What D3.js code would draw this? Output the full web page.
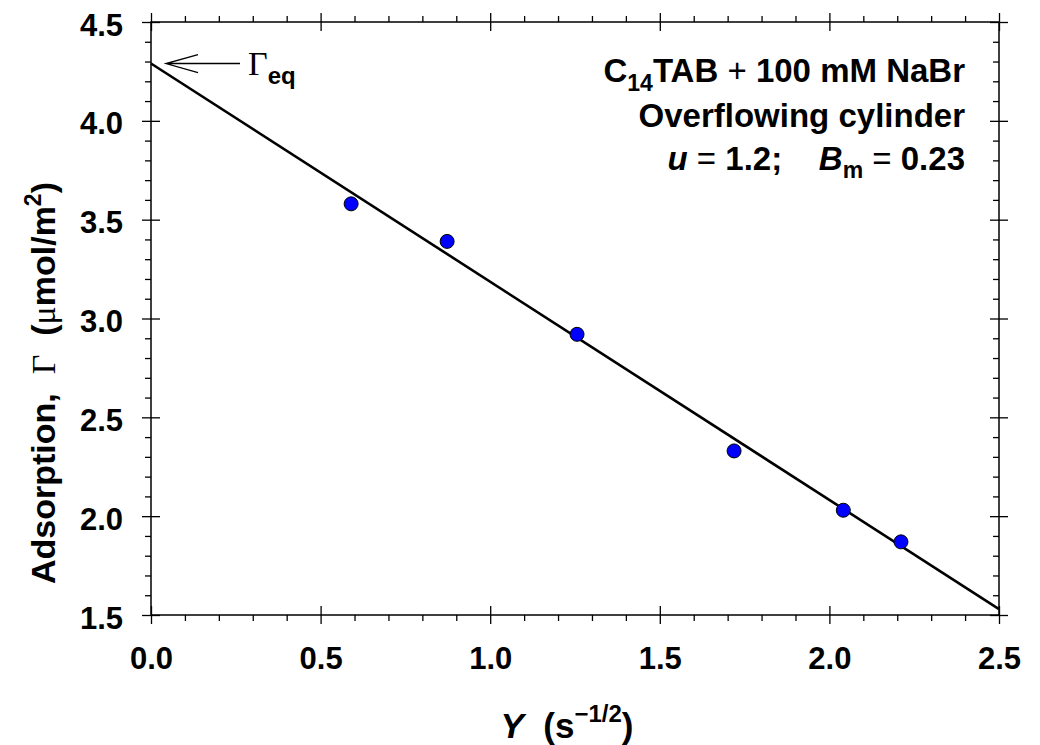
<!DOCTYPE html>
<html><head><meta charset="utf-8">
<script src="https://cdn.jsdelivr.net/npm/d3@7"></script>
<style>
  body { margin: 0; background: #fff; }
  svg { display: block; }
  .tick text { font-family: "Liberation Sans", Arial, sans-serif; font-weight: bold; }
</style>
</head><body>
<svg id="chart" width="1040" height="745"></svg>
<script>
// Axis ticks
const xMajor = [0, 0.5, 1.0, 1.5, 2.0, 2.5];
const yMajor = [1.5, 2.0, 2.5, 3.0, 3.5, 4.0, 4.5];
const xMinor = [0.1, 0.2, 0.3, 0.4, 0.6, 0.7, 0.8, 0.9, 1.1, 1.2, 1.3, 1.4, 1.6, 1.7, 1.8, 1.9, 2.1, 2.2, 2.3, 2.4];
const yMinor = [1.6, 1.7, 1.8, 1.9, 2.1, 2.2, 2.3, 2.4, 2.6, 2.7, 2.8, 2.9, 3.1, 3.2, 3.3, 3.4, 3.6, 3.7, 3.8, 3.9, 4.1, 4.2, 4.3, 4.4];

// Measured adsorption vs. Y
const pointY = [0.59, 0.873, 1.256, 1.719, 2.041, 2.211];
const pointGamma = [3.58, 3.39, 2.92, 2.33, 2.03, 1.87];

// Linear fit, extrapolated to Y = 0 (equilibrium adsorption)
const fitY = [0, 2.5];
const fitGamma = [4.29, 1.53];
const gammaEq = 4.29;

const svg = d3.select("#chart");
const L = 151, R = 999, T = 22, B = 615;
const x = d3.scaleLinear().domain([0, 2.5]).range([L, R]);
const y = d3.scaleLinear().domain([1.5, 4.5]).range([B, T]);
const fmt = d3.format(".1f");
const SANS = '"Liberation Sans", Arial, sans-serif';
const SERIF = '"Liberation Serif", "Times New Roman", serif';
const tickFont = 31;

function styleAxis(g, showLabels) {
  g.select(".domain").remove();
  g.selectAll(".tick line").attr("stroke", "#000").attr("stroke-width", 1.3);
  if (!showLabels) g.selectAll(".tick text").remove();
}

// Bottom axis: labelled majors crossing the frame, minors outward
svg.append("g").attr("transform", `translate(0,${B})`)
  .call(d3.axisBottom(x).tickValues(xMajor).tickFormat(fmt).tickSize(9).tickPadding(23))
  .call(g => styleAxis(g, true))
  .call(g => g.selectAll(".tick text").attr("font-size", tickFont).attr("fill", "#000"));
svg.append("g").attr("transform", `translate(0,${B})`)
  .call(d3.axisBottom(x).tickValues(xMajor).tickSize(-9)).call(g => styleAxis(g, false));
svg.append("g").attr("transform", `translate(0,${B})`)
  .call(d3.axisBottom(x).tickValues(xMinor).tickSize(6)).call(g => styleAxis(g, false));

// Top axis
svg.append("g").attr("transform", `translate(0,${T})`)
  .call(d3.axisTop(x).tickValues(xMajor).tickSize(9)).call(g => styleAxis(g, false));
svg.append("g").attr("transform", `translate(0,${T})`)
  .call(d3.axisTop(x).tickValues(xMajor).tickSize(-9)).call(g => styleAxis(g, false));
svg.append("g").attr("transform", `translate(0,${T})`)
  .call(d3.axisTop(x).tickValues(xMinor).tickSize(6)).call(g => styleAxis(g, false));

// Left axis
svg.append("g").attr("transform", `translate(${L},0)`)
  .call(d3.axisLeft(y).tickValues(yMajor).tickFormat(fmt).tickSize(9).tickPadding(19))
  .call(g => styleAxis(g, true))
  .call(g => g.selectAll(".tick text").attr("font-size", tickFont).attr("fill", "#000").attr("dy", "0.42em"));
svg.append("g").attr("transform", `translate(${L},0)`)
  .call(d3.axisLeft(y).tickValues(yMajor).tickSize(-9)).call(g => styleAxis(g, false));
svg.append("g").attr("transform", `translate(${L},0)`)
  .call(d3.axisLeft(y).tickValues(yMinor).tickSize(6)).call(g => styleAxis(g, false));

// Right axis (minors point inward)
svg.append("g").attr("transform", `translate(${R},0)`)
  .call(d3.axisRight(y).tickValues(yMajor).tickSize(9)).call(g => styleAxis(g, false));
svg.append("g").attr("transform", `translate(${R},0)`)
  .call(d3.axisRight(y).tickValues(yMajor).tickSize(-9)).call(g => styleAxis(g, false));
svg.append("g").attr("transform", `translate(${R},0)`)
  .call(d3.axisRight(y).tickValues(yMinor).tickSize(-6)).call(g => styleAxis(g, false));

// Frame
svg.append("rect").attr("x", L).attr("y", T).attr("width", R - L).attr("height", B - T)
  .attr("fill", "none").attr("stroke", "#000").attr("stroke-width", 1.5);

// Fit line
svg.append("path")
  .datum(fitY.map((v, i) => [v, fitGamma[i]]))
  .attr("d", d3.line().x(d => x(d[0])).y(d => y(d[1])))
  .attr("fill", "none").attr("stroke", "#000").attr("stroke-width", 2.6);

// Data points
svg.append("g").selectAll("circle")
  .data(pointY.map((v, i) => [v, pointGamma[i]]))
  .join("circle")
  .attr("cx", d => x(d[0])).attr("cy", d => y(d[1])).attr("r", 7)
  .attr("fill", "#0000ff").attr("stroke", "#000").attr("stroke-width", 1);

// Arrow pointing at the intercept, labelled Γeq
const ay = y(gammaEq);
const ax0 = x(0) + 15;
svg.append("path")
  .attr("d", `M${ax0 + 32},${ay - 9} L${ax0},${ay} L${ax0 + 32},${ay + 9} M${ax0},${ay} L${ax0 + 74},${ay}`)
  .attr("fill", "none").attr("stroke", "#000").attr("stroke-width", 1.3);
const geq = svg.append("text").attr("x", ax0 + 82).attr("y", ay + 11).attr("fill", "#000");
geq.append("tspan").attr("font-family", SERIF).attr("font-size", 34).text("Γ");
geq.append("tspan").attr("font-family", SANS).attr("font-weight", "bold").attr("font-size", 24)
  .attr("dy", 9).text("eq");

// Annotation block (right-aligned)
const annX = 965, annSize = 33;
const a1 = svg.append("text").attr("x", annX).attr("y", 82).attr("text-anchor", "end")
  .attr("font-family", SANS).attr("font-weight", "bold").attr("font-size", annSize).attr("fill", "#000");
a1.append("tspan").text("C");
a1.append("tspan").attr("font-size", 23).attr("dy", 9).text("14");
a1.append("tspan").attr("dy", -9).text("TAB ");
a1.append("tspan").attr("font-weight", "normal").text("+");
a1.append("tspan").text(" 100 mM NaBr");

svg.append("text").attr("x", annX).attr("y", 127).attr("text-anchor", "end")
  .attr("font-family", SANS).attr("font-weight", "bold").attr("font-size", annSize).attr("fill", "#000")
  .text("Overflowing cylinder");

const a3 = svg.append("text").attr("x", annX).attr("y", 170).attr("text-anchor", "end")
  .attr("font-family", SANS).attr("font-weight", "bold").attr("font-size", annSize).attr("fill", "#000")
  .attr("xml:space", "preserve");
a3.append("tspan").attr("font-style", "italic").text("u");
a3.append("tspan").attr("font-weight", "normal").text(" = ");
a3.append("tspan").text("1.2;    ");
a3.append("tspan").attr("font-style", "italic").text("B");
a3.append("tspan").attr("font-size", 23).attr("dy", 8).text("m");
a3.append("tspan").attr("dy", -8).attr("font-weight", "normal").text(" = ");
a3.append("tspan").text("0.23");

// X axis title
const xt = svg.append("text").attr("x", 567).attr("y", 738).attr("text-anchor", "middle")
  .attr("font-family", SANS).attr("font-weight", "bold").attr("font-size", 35).attr("fill", "#000")
  .attr("xml:space", "preserve");
xt.append("tspan").attr("font-style", "italic").text("Y");
xt.append("tspan").text("  (s");
xt.append("tspan").attr("font-size", 24).attr("dy", -16).text("\u22121/2");
xt.append("tspan").attr("dy", 16).text(")");

// Y axis title
const yt = svg.append("text")
  .attr("transform", "translate(55,383) rotate(-90)")
  .attr("text-anchor", "middle")
  .attr("font-family", SANS).attr("font-weight", "bold").attr("font-size", 34).attr("fill", "#000")
  .attr("xml:space", "preserve");
yt.append("tspan").text("Adsorption,  ");
yt.append("tspan").attr("font-family", SERIF).attr("font-weight", "normal").text("Γ");
yt.append("tspan").text("  (");
yt.append("tspan").attr("font-family", SERIF).attr("font-weight", "normal").text("μ");
yt.append("tspan").text("mol/m");
yt.append("tspan").attr("font-size", 23).attr("dy", -14).text("2");
yt.append("tspan").attr("dy", 14).text(")");
</script>
</body></html>
